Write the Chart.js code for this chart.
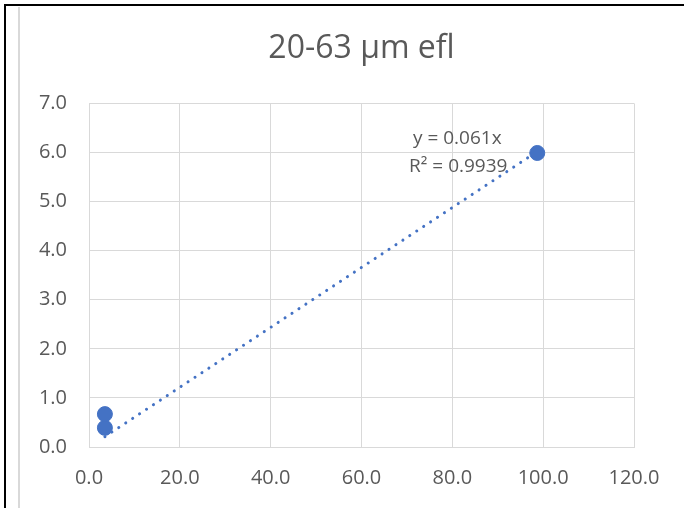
<!DOCTYPE html>
<html>
<head>
<meta charset="utf-8">
<script src="https://cdn.jsdelivr.net/npm/chart.js@4/dist/chart.umd.min.js"></script>
<style>
  html, body { margin: 0; padding: 0; background: #fff; }
  #wrap { position: relative; width: 684px; height: 508px; overflow: hidden; }
  #frame { position: absolute; left: 4px; top: 4px; right: 0; bottom: 0; border-top: 2px solid #000; border-left: 2px solid #000; }
  #inner { position: absolute; left: 18px; top: 7px; bottom: 0; width: 0; border-left: 2px solid #d9d9d9; }
  canvas { position: absolute; left: 0; top: 0; }
</style>
</head>
<body>
<div id="wrap">
  <div id="frame"></div>
  <div id="inner"></div>
  <canvas id="c" width="684" height="508"></canvas>
</div>
<script>
// Dati (scatter + linea di tendenza lineare)
const TITLE = '20-63 µm efl';
const pointsX = [3.5, 3.5, 98.7];
const pointsY = [0.39, 0.67, 5.99];
const trendX = [3.5, 98.7];
const trendY = [0.21, 6.02];
const trendLabel = ['y = 0.061x', 'R² = 0.9939'];
const xTicks = [0, 20, 40, 60, 80, 100, 120];
const yTicks = [0, 1, 2, 3, 4, 5, 6, 7];

const BLUE = '#4472C4';
const TEXT = '#595959';
const GRID = '#d9d9d9';
const FONT = '"Open Sans", sans-serif';

// Etichetta della tendenza, ancorata all'ultimo punto della linea.
const trendLabelPlugin = {
  id: 'trendLabel',
  afterDatasetsDraw(chart) {
    const { ctx, scales } = chart;
    const x = scales.x.getPixelForValue(trendX[trendX.length - 1]);
    const y = scales.y.getPixelForValue(trendY[trendY.length - 1]);
    ctx.save();
    ctx.fillStyle = TEXT;
    ctx.font = `19px ${FONT}`;
    ctx.textAlign = 'center';
    ctx.textBaseline = 'middle';
    ctx.fillText(trendLabel[0], x - 80, y - 13);
    ctx.fillText(trendLabel[1], x - 79, y + 15);
    ctx.restore();
  },
};

new Chart(document.getElementById('c'), {
  type: 'scatter',
  data: {
    datasets: [
      {
        label: 'trend',
        type: 'line',
        data: trendX.map((x, i) => ({ x, y: trendY[i] })),
        borderColor: BLUE,
        borderWidth: 3,
        borderDash: [0.1, 8.2],
        borderCapStyle: 'round',
        pointRadius: 0,
        fill: false,
        order: 2,
      },
      {
        label: 'dati',
        data: pointsX.map((x, i) => ({ x, y: pointsY[i] })),
        backgroundColor: BLUE,
        borderColor: BLUE,
        pointRadius: 7.5,
        order: 1,
      },
    ],
  },
  options: {
    responsive: false,
    animation: false,
    layout: { padding: { left: 20, right: 50, top: 0, bottom: 0 } },
    scales: {
      x: {
        type: 'linear', min: 0, max: 120,
        afterBuildTicks: (s) => { s.ticks = xTicks.map((v) => ({ value: v })); },
        afterFit: (s) => { s.height = 61; },
        ticks: { color: TEXT, font: { family: FONT, size: 20 }, padding: 19, callback: (v) => v.toFixed(1) },
        grid: { color: GRID, drawTicks: false, lineWidth: 1 },
        border: { color: GRID },
      },
      y: {
        type: 'linear', min: 0, max: 7,
        afterBuildTicks: (s) => { s.ticks = yTicks.map((v) => ({ value: v })); },
        afterFit: (s) => { s.width = 69; },
        ticks: { color: TEXT, font: { family: FONT, size: 20 }, padding: 22, callback: (v) => v.toFixed(1) },
        grid: { color: GRID, drawTicks: false, lineWidth: 1 },
        border: { color: GRID },
      },
    },
    plugins: {
      legend: { display: false },
      tooltip: { enabled: false },
      title: {
        display: true,
        text: TITLE,
        fullSize: false,
        color: TEXT,
        font: { family: FONT, size: 32, weight: 'normal', lineHeight: 1.2 },
        padding: { top: 30, bottom: 35 },
      },
    },
  },
  plugins: [trendLabelPlugin],
});
</script>
</body>
</html>
